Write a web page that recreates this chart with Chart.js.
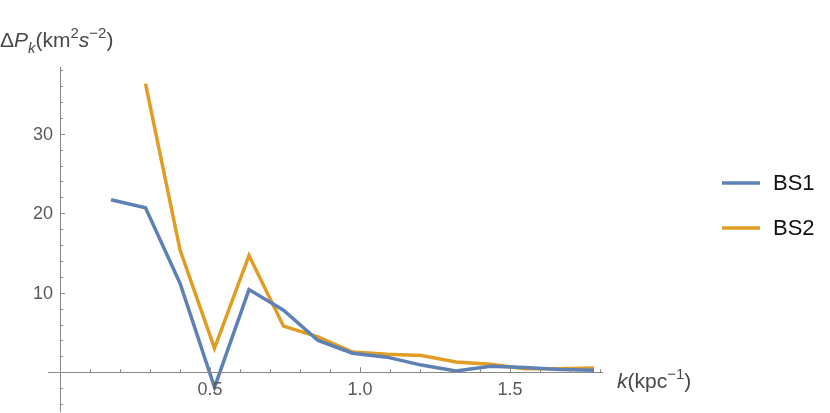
<!DOCTYPE html>
<html>
<head>
<meta charset="utf-8">
<script src="https://cdn.jsdelivr.net/npm/chart.js@4/dist/chart.umd.min.js"></script>
<style>
  html, body { margin: 0; padding: 0; background: #fff; }
  #wrap { width: 830px; height: 413px; position: relative; }
</style>
</head>
<body>
<div id="wrap"><canvas id="c" width="830" height="413"></canvas></div>
<script>
// ---- data ----
const kValues = [0.17, 0.285, 0.40, 0.515, 0.63, 0.745, 0.86, 0.975, 1.09, 1.205, 1.32, 1.435, 1.55, 1.665, 1.78];
const bs1 = [21.7, 20.7, 11.2, -1.9, 10.4, 7.8, 4.0, 2.4, 1.9, 0.9, 0.15, 0.75, 0.6, 0.35, 0.25];
const bs2 = [null, 36.3, 15.4, 3.0, 14.7, 5.8, 4.45, 2.55, 2.25, 2.1, 1.3, 1.0, 0.45, 0.45, 0.55];
const seriesNames = ['BS1', 'BS2'];
const xTickLabels = [0.5, 1.0, 1.5];
const yTickLabels = [10, 20, 30];

const colors = ['#5E81B5', '#E19C24'];
const FONT = '"Liberation Sans", Arial, Helvetica, sans-serif';

function pts(ys) {
  const out = [];
  kValues.forEach((k, i) => { if (ys[i] !== null) out.push({x: k, y: ys[i]}); });
  return out;
}

const axesPlugin = {
  id: 'mmaAxes',
  afterDatasetsDraw(chart) {
    const ctx = chart.ctx;
    const xs = chart.scales.x, ys = chart.scales.y;
    const x0 = xs.getPixelForValue(0), y0 = ys.getPixelForValue(0);
    ctx.save();
    ctx.strokeStyle = '#888';
    ctx.lineWidth = 1;
    // axes lines
    ctx.beginPath();
    ctx.moveTo(xs.left, Math.round(y0) + 0.5);
    ctx.lineTo(xs.right, Math.round(y0) + 0.5);
    ctx.moveTo(Math.round(x0) + 0.5, ys.top);
    ctx.lineTo(Math.round(x0) + 0.5, ys.bottom);
    ctx.stroke();
    // x ticks every 0.1
    ctx.beginPath();
    for (let i = 1; i <= 18; i++) {
      const v = i / 10;
      const px = Math.round(xs.getPixelForValue(v)) + 0.5;
      const len = (i % 5 === 0) ? 5 : 3;
      ctx.moveTo(px, y0);
      ctx.lineTo(px, y0 - len);
    }
    // y ticks every 2
    for (let v = -4; v <= 38; v += 2) {
      if (v === 0) continue;
      const py = Math.round(ys.getPixelForValue(v)) + 0.5;
      const len = (v % 10 === 0) ? 5 : 3;
      ctx.moveTo(x0, py);
      ctx.lineTo(x0 + len, py);
    }
    ctx.stroke();

    // tick labels
    ctx.fillStyle = '#5a5a5a';
    ctx.font = '18px ' + FONT;
    ctx.textAlign = 'center';
    ctx.textBaseline = 'top';
    xTickLabels.forEach(v => {
      ctx.fillText(v.toFixed(1), xs.getPixelForValue(v), y0 + 9);
    });
    ctx.textAlign = 'right';
    ctx.textBaseline = 'middle';
    yTickLabels.forEach(v => {
      ctx.fillText(String(v), x0 - 7, ys.getPixelForValue(v) + 1);
    });

    // axis labels (rich text)
    function rich(segs, x, y) {
      let cx = x;
      segs.forEach(s => {
        const size = s.small ? 15 : 21;
        ctx.font = (s.it ? 'italic ' : '') + size + 'px ' + FONT;
        ctx.textAlign = 'left';
        ctx.textBaseline = 'alphabetic';
        ctx.fillText(s.t, cx, y + (s.dy || 0));
        cx += ctx.measureText(s.t).width + (s.gap || 0);
      });
    }
    ctx.fillStyle = '#484848';
    rich([
      {t: 'Δ'}, {t: 'P', it: true}, {t: 'k', it: true, small: true, dy: 6},
      {t: '(km'}, {t: '2', small: true, dy: -9}, {t: 's', it: true},
      {t: '−2', small: true, dy: -9}, {t: ')'}
    ], 0, 47);
    rich([
      {t: 'k', it: true}, {t: '(kpc'}, {t: '−1', small: true, dy: -9}, {t: ')'}
    ], xs.right + 14, y0 + 16);

    // legend
    ctx.font = '22px ' + FONT;
    ctx.textAlign = 'left';
    ctx.textBaseline = 'middle';
    chart.data.datasets.forEach((ds, i) => {
      const ly = 183 + i * 45;
      ctx.strokeStyle = ds.borderColor;
      ctx.lineWidth = 3.5;
      ctx.beginPath();
      ctx.moveTo(722, ly);
      ctx.lineTo(760, ly);
      ctx.stroke();
      ctx.fillStyle = '#111';
      ctx.fillText(ds.label, 773, ly + 1);
    });
    ctx.restore();
  }
};

new Chart(document.getElementById('c'), {
  type: 'line',
  data: {
    datasets: [
      {label: seriesNames[0], data: pts(bs1), borderColor: colors[0], borderWidth: 3.5, pointRadius: 0, fill: false, tension: 0},
      {label: seriesNames[1], data: pts(bs2), borderColor: colors[1], borderWidth: 3.5, pointRadius: 0, fill: false, tension: 0}
    ]
  },
  options: {
    responsive: false,
    animation: false,
    layout: {padding: {left: 48, right: 227, top: 67, bottom: 1}},
    plugins: {legend: {display: false}, tooltip: {enabled: false}},
    scales: {
      x: {type: 'linear', min: -0.04, max: 1.81, display: false},
      y: {type: 'linear', min: -5.0, max: 38.4, display: false}
    }
  },
  plugins: [axesPlugin]
});
</script>
</body>
</html>
